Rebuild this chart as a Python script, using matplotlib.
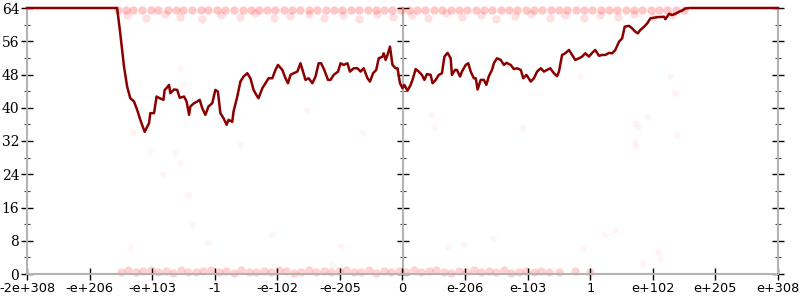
import numpy as np
import matplotlib
matplotlib.use('Agg')
import matplotlib.pyplot as plt

# x axis is ordinal float space, one unit per tick label
x_labels = ['-2e+308', '-e+206', '-e+103', '-1', '-e-102', '-e-205', '0',
            'e-206', 'e-103', '1', 'e+102', 'e+205', 'e+308']
x_ticks = np.arange(-6, 7)
y_ticks = [0, 8, 16, 24, 32, 40, 48, 56, 64]

# averaged error (bits)
err_x = [-6.0, -4.56, -4.51, -4.45, -4.40, -4.35, -4.29, -4.24, -4.19, -4.12,
         -4.05, -4.03, -3.97, -3.93, -3.88, -3.82, -3.80, -3.76, -3.73, -3.71,
         -3.65, -3.60, -3.56, -3.49, -3.45, -3.41, -3.39, -3.33, -3.28, -3.24,
         -3.20, -3.15, -3.10, -3.04, -2.99, -2.95, -2.91, -2.86, -2.81, -2.78,
         -2.72, -2.70, -2.64, -2.59, -2.54, -2.48, -2.43,
         -2.38, -2.32, -2.30, -2.24, -2.19, -2.14, -2.08, -2.03, -1.99, -1.92,
         -1.87, -1.83, -1.79, -1.74, -1.68, -1.63, -1.59, -1.55, -1.50, -1.44,
         -1.39, -1.34, -1.30, -1.25, -1.19, -1.15, -1.10, -1.03, -0.99, -0.94,
         -0.88, -0.84, -0.78, -0.72, -0.67, -0.62, -0.56, -0.52, -0.47, -0.42,
         -0.38, -0.32, -0.30, -0.27, -0.24, -0.20, -0.16, -0.11, -0.08, -0.04,
         0.00, 0.03, 0.08, 0.13, 0.16, 0.21, 0.26, 0.31, 0.35, 0.39,
         0.45, 0.48, 0.53, 0.58, 0.63, 0.67, 0.72, 0.77, 0.79, 0.84,
         0.87, 0.92, 0.95, 1.01, 1.05, 1.09, 1.14, 1.17, 1.20, 1.25,
         1.30, 1.34, 1.38, 1.43, 1.46, 1.51, 1.57, 1.62, 1.66, 1.73,
         1.78, 1.83, 1.89, 1.93, 1.98, 2.05, 2.10, 2.15, 2.21, 2.26,
         2.31, 2.36,
         2.42, 2.47, 2.50, 2.55, 2.60, 2.66, 2.71, 2.76, 2.82, 2.87,
         2.92, 2.98, 3.03, 3.08, 3.14, 3.19, 3.24, 3.30, 3.35, 3.40,
         3.46, 3.51, 3.55, 3.62, 3.67, 3.72, 3.76, 3.80, 3.86, 3.91,
         3.96, 4.07, 4.18, 4.20, 4.26, 4.31, 4.36, 4.42, 4.47, 4.52,
         4.60, 6.0]
err_y = [64.0, 64.0, 57.9, 49.9, 45.1, 42.3, 41.5, 39.5, 37.1, 34.2,
         36.3, 38.7, 38.7, 42.7, 42.3, 41.9, 44.3, 44.9, 45.5, 43.5,
         44.4, 44.3, 42.4, 42.7, 41.5, 38.3, 40.3, 41.1, 41.5, 41.9,
         39.9, 38.3, 40.3, 41.1, 44.3, 43.9, 38.7, 37.5, 35.9, 37.1,
         36.6, 39.1, 42.7, 46.3, 47.5, 48.3, 47.1,
         44.3, 42.7, 42.3, 44.7, 45.9, 47.1, 47.1, 49.1, 50.3, 49.1,
         47.1, 45.9, 47.9, 48.3, 48.7, 50.7, 48.7, 46.7, 47.1, 45.9,
         47.5, 50.7, 50.7, 49.1, 46.7, 46.7, 47.9, 48.7, 50.7, 50.3,
         50.7, 48.7, 49.5, 49.5, 48.7, 49.5, 47.1, 46.3, 48.3, 49.1,
         51.9, 52.3, 53.1, 51.5, 52.7, 54.7, 50.3, 49.5, 49.5, 45.9,
         44.7, 45.5, 44.1, 45.5, 46.7, 49.3, 48.7, 47.9, 46.7, 48.1,
         47.9, 45.9, 46.7, 47.9, 48.3, 52.3, 53.2, 51.9, 47.9, 49.1,
         49.1, 47.5, 48.7, 50.3, 50.7, 48.7, 47.1, 47.1, 44.4, 46.7,
         46.7, 45.5, 47.6, 49.1, 50.7, 51.9, 51.5, 50.3, 50.8, 50.3,
         49.3, 49.5, 49.1, 47.1, 47.9, 46.3, 47.1, 48.7, 49.5, 48.7,
         49.1, 49.5,
         48.3, 47.6, 48.7, 52.7, 53.1, 53.9, 52.7, 51.5, 51.9, 52.3,
         53.1, 52.3, 53.2, 53.9, 52.5, 52.7, 52.7, 53.2, 53.1, 53.9,
         55.9, 56.7, 59.5, 59.7, 59.1, 58.3, 57.9, 58.7, 59.5, 60.3,
         61.5, 61.8, 61.9, 61.3, 62.6, 62.3, 62.6, 63.1, 63.4, 63.9,
         64.0, 64.0]

# sampled points: band just below 64 bits
top_x = [-4.55, -4.42, -4.3, -4.16, -4.02, -3.9, -3.75, -3.62, -3.5, -3.36,
         -3.22, -3.1, -2.96, -2.83, -2.7, -2.55, -2.42, -2.3, -2.16, -2.03,
         -1.9, -1.76, -1.63, -1.5, -1.36, -1.22, -1.1, -0.96, -0.83, -0.7,
         -0.55, -0.42, -0.3, -0.16, -0.03, 0.1, 0.23, 0.36, 0.5, 0.63,
         0.77, 0.9, 1.03, 1.17, 1.3, 1.43, 1.57, 1.7, 1.83, 1.97,
         2.1, 2.23, 2.37, 2.5, 2.63, 2.77, 2.9, 3.03, 3.17, 3.3,
         3.43, 3.57, 3.7, 3.83, 3.97, 4.1, 4.23, 4.37, 4.5]
top_y = 63.4
row2_x = [-4.4, -4.1, -3.8, -3.55, -3.2, -2.9, -2.6, -2.35, -2.05, -1.8,
          -1.5, -1.25, -0.95, -0.7, -0.4, -0.15, 0.15, 0.4, 0.7, 0.95,
          1.25, 1.5, 1.8, 2.05, 2.35, 2.6, 2.9, 3.15, 3.45, 3.7,
          4.0, 4.3]
row2_y = [62.2, 61.6, 62.6, 61.9, 61.3, 62.4, 61.8, 62.7, 61.5, 62.1,
          62.5, 61.7, 62.3, 61.4, 62.6, 61.9, 62.2, 61.6, 62.7, 61.8,
          62.4, 61.3, 62.1, 62.6, 61.7, 62.3, 61.5, 62.4, 61.9, 62.6,
          61.8, 62.2]

# sampled points: band near 0 bits
bot_x = [-4.5, -4.38, -4.26, -4.14, -4.02, -3.9, -3.78, -3.66, -3.54, -3.42,
         -3.3, -3.18, -3.06, -2.94, -2.82, -2.7, -2.58, -2.46, -2.34, -2.22,
         -2.1, -1.98, -1.86, -1.74, -1.62, -1.5, -1.38, -1.26, -1.14, -1.02,
         -0.9, -0.78, -0.66, -0.54, -0.42, -0.3, -0.18, -0.06, 0.06, 0.18,
         0.3, 0.42, 0.54, 0.66, 0.78, 0.9, 1.02, 1.14, 1.26, 1.38,
         1.5, 1.62, 1.74, 1.86, 1.98, 2.1, 2.22, 2.34, 2.5, 2.75, 3.0]
bot_y = [0.6, 0.9, 0.4, 0.7, 1.0, 0.5, 0.8, 0.3, 0.9, 0.6,
         0.4, 0.8, 1.0, 0.5, 0.7, 0.3, 0.9, 0.6, 0.4, 0.8,
         0.5, 1.0, 0.7, 0.3, 0.6, 0.9, 0.4, 0.8, 0.5, 0.7,
         1.0, 0.4, 0.6, 0.9, 0.3, 0.7, 0.5, 0.8, 0.6, 1.0,
         0.4, 0.7, 0.9, 0.5, 0.3, 0.8, 0.6, 1.0, 0.4, 0.7,
         0.5, 0.9, 0.3, 0.6, 0.8, 0.5, 0.7, 0.4, 0.6, 0.8, 0.5]

# sparse points in between
mid_x = [-3.55, -3.50, -4.30, -4.03, -3.63, -3.55, -3.82, -3.42, -3.37, -4.35,
         -2.59, -1.52, -0.64, 0.45, 0.50, 1.92, 2.84, 4.28, 4.35, 3.91,
         3.71, 3.77, 4.38, 3.72, 3.72, -3.10, -2.08, -0.99, -1.12, 0.97,
         0.72, 1.44, 3.23, 2.89, 4.09, 4.12, 3.85, 3.39]
mid_y = [49.6, 45.5, 34.2, 29.8, 29.1, 26.7, 24.1, 19.0, 11.8, 6.3,
         31.0, 39.5, 33.9, 38.3, 35.4, 35.1, 47.6, 47.6, 43.6, 38.0,
         36.3, 35.4, 33.4, 32.0, 30.8, 7.5, 9.6, 6.7, 2.2, 7.2,
         6.5, 8.7, 9.6, 6.3, 5.3, 3.6, 2.6, 10.6]

axis_grey = '#b3b3b3'

fig = plt.figure(figsize=(8, 3), dpi=100)
ax = fig.add_axes([27 / 800, 26 / 300, 751 / 800, 266 / 300])

ax.plot(top_x, [top_y] * len(top_x), 'o', ms=6, mew=0, color='red', alpha=0.22, clip_on=False, zorder=1)
ax.plot(row2_x, row2_y, 'o', ms=6, mew=0, color='red', alpha=0.12, zorder=1)
ax.plot(bot_x, bot_y, 'o', ms=6, mew=0, color='red', alpha=0.18, clip_on=False, zorder=1)
ax.plot(mid_x, mid_y, 'o', ms=5, mew=0, color='red', alpha=0.04, zorder=1)
ax.plot(err_x, err_y, color='#8b0000', lw=1.8, clip_on=False, zorder=3)

ax.set_xlim(-6, 6)
ax.set_ylim(0, 64)

for side in ['left', 'right', 'bottom']:
    ax.spines[side].set_color(axis_grey)
    ax.spines[side].set_linewidth(1.5)
    ax.spines[side].set_zorder(2)
ax.spines['top'].set_visible(False)

ax.set_xticks(x_ticks)
ax.set_xticklabels(x_labels, fontsize=9.3, family='DejaVu Sans')
ax.set_yticks(y_ticks)
ax.set_yticks(np.arange(4, 64, 8), minor=True)
ax.set_yticklabels([str(v) for v in y_ticks], fontsize=10, family='DejaVu Serif')

ax.tick_params(axis='x', direction='inout', length=8, width=1, color='black', pad=2)
ax.tick_params(axis='y', which='major', direction='inout', length=9, width=1,
               color='black', left=True, right=True, labelright=False, pad=1)
ax.tick_params(axis='y', which='minor', direction='inout', length=5, width=0.8,
               color='#444444', left=True, right=True)

# centre axis at x = 0, ticks only
mid = ax.secondary_yaxis(0.5)
mid.set_yticks(y_ticks)
mid.set_yticks(np.arange(4, 64, 8), minor=True)
mid.yaxis.set_ticklabels([])
for sp in mid.spines.values():
    sp.set_color(axis_grey)
    sp.set_linewidth(1.5)
mid.tick_params(which='major', direction='inout', length=9, width=1, color='black')
mid.tick_params(which='minor', direction='inout', length=5, width=0.8, color='#444444')

fig.savefig('out.png', dpi=100)
